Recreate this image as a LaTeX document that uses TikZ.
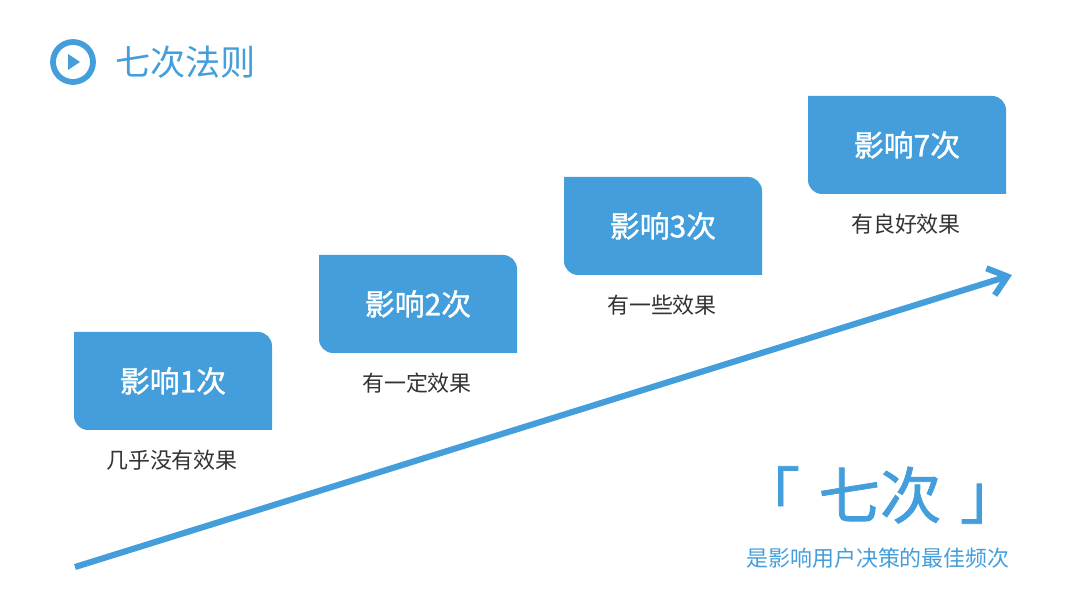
\documentclass[tikz,border=0pt]{standalone}
\usepackage{fontspec}
\setmainfont{Noto Sans CJK SC}
\newfontfamily\medfont[FakeBold=1.2]{Noto Sans CJK SC}
\usetikzlibrary{arrows.meta}
\definecolor{bl}{HTML}{439EDB}
\begin{document}
\begin{tikzpicture}[x=0.02cm,y=-0.02cm,
  boxtxt/.style={text=white,font=\fontsize{17}{20}\selectfont\medfont},
  captxt/.style={text=black!80,font=\fontsize{12.5}{15}\selectfont}]
\useasboundingbox (0,0) rectangle (1080,607);
\newcommand{\mybox}[5]{%
  \fill[bl] (#1,#2) -- (#1+184,#2) arc[start angle=270,end angle=360,radius=14] -- (#1+198,#2+98) -- (#1+14,#2+98) arc[start angle=90,end angle=180,radius=14] -- cycle;
  \node[boxtxt] (#3) at (#1+99,#2+49) {#4};
  \node[captxt] (#3c) at (#1+98,#2+128) {#5};}
\mybox{74}{332}{b1}{影响1次}{几乎没有效果}
\mybox{319}{255}{b2}{影响2次}{有一定效果}
\mybox{564}{177}{b3}{影响3次}{有一些效果}
\mybox{808}{96}{b4}{影响7次}{有良好效果}
\coordinate (s) at (75,567);
\coordinate (e) at (1012,275);
\draw[bl,line width=3.5pt,-{Straight Barb[length=10pt,width=16pt]}] (s) -- (e);
\node[draw=bl,circle,line width=3.3pt,minimum size=0.8cm,inner sep=0] (ic) at (73,62) {};
\fill[bl] (68,54) -- (80,62) -- (68,70) -- cycle;
\node[anchor=west,text=bl,font=\fontsize{20}{24}\selectfont,inner sep=0] (t) at (115,62) {七次法则};
\node[text=bl,font=\fontsize{35}{40}\selectfont\medfont] (big) at (880,495) {「\hspace{0.3em}七次\hspace{0.3em}」};
\node[text=bl,font=\fontsize{12.5}{15}\selectfont] (sub) at (878,558) {是影响用户决策的最佳频次};
\end{tikzpicture}
\end{document}
